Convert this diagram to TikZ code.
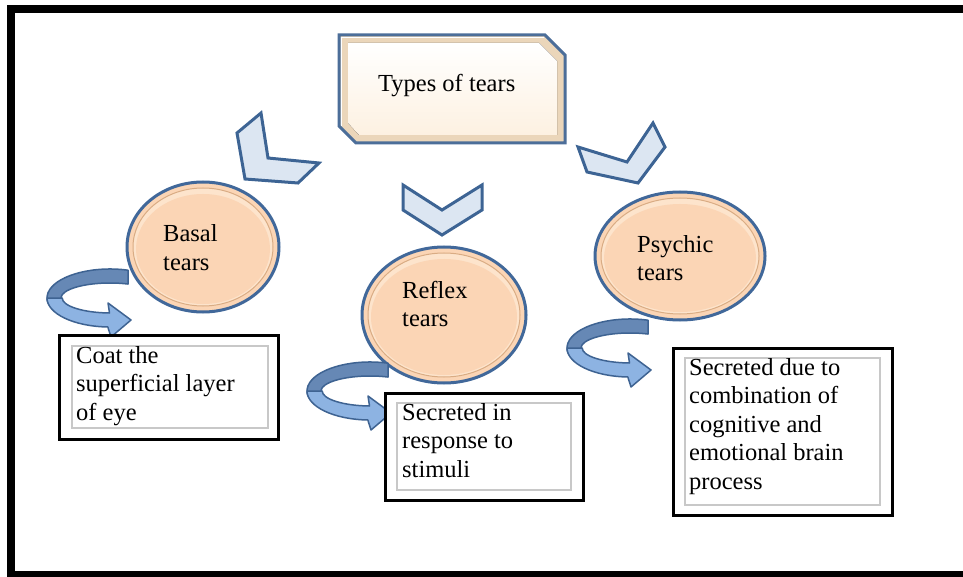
\documentclass[tikz,border=0pt]{standalone}
\usepackage{fontspec}
\setmainfont{Liberation Serif}
\newfontfamily\serifx{Liberation Serif}
\usetikzlibrary{calc}
\definecolor{chevfill}{HTML}{DCE6F2}
\definecolor{chevline}{HTML}{3D6494}
\definecolor{circfill}{HTML}{FBD5B5}
\definecolor{circlight}{HTML}{FDE4CC}
\definecolor{circshade}{HTML}{D9AC84}
\definecolor{circline}{HTML}{41689A}
\definecolor{boxbevel}{HTML}{EBD6BA}
\definecolor{boxface}{HTML}{FDF1E1}
\definecolor{boxline}{HTML}{4C6E99}
\definecolor{banddark}{HTML}{6688B5}
\definecolor{bandlight}{HTML}{8DB3E2}
\definecolor{bandline}{HTML}{3E6392}
\definecolor{innergray}{HTML}{C8C8C8}
\newcommand\mylines[1]{\parbox[t]{300pt}{\raggedright #1}}
\tikzset{
  chev/.style={fill=chevfill, draw=chevline, line width=3pt, line join=miter},
  circ/.style={fill=circfill, draw=circline, line width=3pt},
  txt/.style={anchor=base west, inner sep=0pt, font=\serifx\fontsize{24.5}{28.5}\selectfont},
  outerbox/.style={draw=black, line width=3pt, fill=white},
  innerbox/.style={draw=innergray, line width=1.2pt},
  curl/.pic={
    \filldraw[fill=banddark, draw=bandline, line width=1.5pt, line join=round]
      (128.0,270.2) arc[start angle=-73.4, end angle=-190, x radius=63, y radius=29]
      -- (61.74,300.6) arc[start angle=-190, end angle=-68.4, x radius=49, y radius=15] -- cycle;
    \filldraw[fill=bandlight, draw=bandline, line width=1.5pt, line join=round]
      (47,298) arc[start angle=180, end angle=92, x radius=63, y radius=29]
      -- (111,337) -- (131,320) -- (108,303) -- (109.5,313)
      arc[start angle=92, end angle=180, x radius=49, y radius=15] -- cycle;
  }
}
\begin{document}
\begin{tikzpicture}[x=1pt,y=-1pt]
\useasboundingbox (0,0) rectangle (963,577);
\fill[white] (0,0) rectangle (963,577);
% outer frame
\fill[black] (7,5) rectangle (963,13);
\fill[black] (7,5) rectangle (15,577);
\fill[black] (7,571) rectangle (963,577);

% title box
\filldraw[fill=boxbevel, draw=boxline, line width=3pt, line join=miter]
  (339,35) -- (545,35) -- (565,55) -- (565,143) -- (356,143) -- (339,126) -- cycle;
\fill[top color=white, bottom color=boxface]
  (348,43) -- (539,43) -- (557,61) -- (557,135) -- (359,135) -- (348,123) -- cycle;
\draw[white, line width=1pt] (341.5,126) -- (341.5,37.5) -- (544,37.5);
\node[txt] (title) at (378,92) {Types of tears};

% chevrons
\draw[chev] (237,133) -- (261,113) -- (268,158) -- (319,163) -- (298,183) -- (245,179) -- cycle;
\draw[chev] (403,185) -- (442,210) -- (482,185) -- (482,210) -- (442,235) -- (403,210) -- cycle;
\draw[chev] (578,147) -- (627,162) -- (653,123) -- (665,147) -- (638,183) -- (587,172) -- cycle;

% circles
\filldraw[circ] (203,247) ellipse [x radius=76, y radius=65];
\draw[circshade, line width=1pt, fill=circlight] (203,247) ellipse [x radius=70, y radius=59];
\fill[circfill] (203,249) ellipse [x radius=67, y radius=55];
\filldraw[circ] (444,315) ellipse [x radius=82, y radius=68];
\draw[circshade, line width=1pt, fill=circlight] (444,315) ellipse [x radius=76, y radius=62];
\fill[circfill] (444,317) ellipse [x radius=73, y radius=58];
\filldraw[circ] (680,256) ellipse [x radius=85, y radius=64];
\draw[circshade, line width=1pt, fill=circlight] (680,256) ellipse [x radius=79, y radius=58];
\fill[circfill] (680,258) ellipse [x radius=76, y radius=54];

\node[txt] (basal) at (163,242) {\mylines{Basal\\tears}};
\node[txt] (reflex) at (402,298) {\mylines{Reflex\\tears}};
\node[txt] (psychic) at (637,252) {\mylines{Psychic\\tears}};

% curved arrows
\pic at (0,0) {curl};
\pic at (260,93) {curl};
\pic at (520,50) {curl};

% description boxes
\draw[outerbox] (59,335) rectangle (278,439);
\draw[innerbox] (72,346) rectangle (268,428);
\node[txt] (basaltxt) at (76,363) {\mylines{Coat the\\superficial layer\\of eye}};

\draw[outerbox] (385,393) rectangle (583,500);
\draw[innerbox] (397,403) rectangle (571,490);
\node[txt] (reflextxt) at (402,420) {\mylines{Secreted in\\response to\\stimuli}};

\draw[outerbox] (673,348) rectangle (892,515);
\draw[innerbox] (685,358) rectangle (880,505);
\node[txt] (psychictxt) at (689,375) {\mylines{Secreted due to\\combination of\\cognitive and\\emotional brain\\process}};
\end{tikzpicture}
\end{document}
